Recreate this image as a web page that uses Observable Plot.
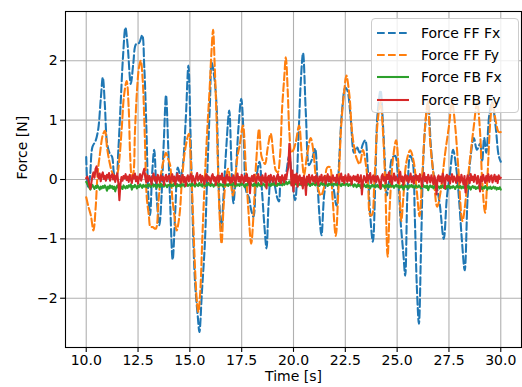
<!DOCTYPE html>
<html><head><meta charset="utf-8">
<script src="https://cdn.jsdelivr.net/npm/d3@7"></script>
<script src="https://cdn.jsdelivr.net/npm/@observablehq/plot@0.6"></script>
<style>
body{margin:0;background:#fff;}
#wrap{position:relative;width:522px;height:387px;font-family:"DejaVu Sans",sans-serif;}
.legend{position:absolute;left:371px;top:18px;width:148px;height:95px;box-sizing:border-box;border:1px solid #cccccc;border-radius:4px;background:rgba(255,255,255,0.8);}
.row{position:absolute;left:0;height:22px;display:flex;align-items:center;font-family:"DejaVu Sans",sans-serif;font-size:14px;color:#000;white-space:nowrap;}
.row svg{margin-left:5px;margin-right:12px;}
</style></head>
<body><div id="wrap"></div>
<script>
// ---- data ----
const xTicks = [10, 12.5, 15, 17.5, 20, 22.5, 25, 27.5, 30];
const yTicks = [-2, -1, 0, 1, 2];
const seriesNames = ["Force FF Fx", "Force FF Fy", "Force FB Fx", "Force FB Fy"];
const seriesColors = ["#1f77b4", "#ff7f0e", "#2ca02c", "#d62728"];
const seriesDashed = [true, true, false, false];

// Force FF Fx (blue dashed)
const ffFxTime = [
 10.00,10.08,10.18,10.30,10.45,10.58,10.70,10.80,10.90,11.00,
 11.12,11.25,11.35,11.45,11.55,11.65,11.78,11.89,12.00,12.15,
 12.27,12.40,12.55,12.70,12.80,12.90,13.00,13.08,13.18,13.28,
 13.40,13.53,13.63,13.75,13.85,13.95,14.05,14.17,14.30,14.42,
 14.55,14.65,14.80,14.93,15.03,15.13,15.25,15.38,15.46,15.58,
 15.72,15.85,15.97,16.05,16.15,16.28,16.40,16.52,16.62,16.75,
 16.90,17.00,17.10,17.20,17.35,17.48,17.60,17.72,17.85,17.95,
 18.07,18.20,18.36,18.48,18.60,18.70,18.80,18.92,19.05,19.21,
 19.30,19.40,19.52,19.63,19.79,19.92,20.08,20.25,20.35,20.46,
 20.60,20.75,20.90,21.04,21.15,21.25,21.35,21.50,21.65,21.85,
 22.07,22.20,22.35,22.50,22.60,22.75,22.92,23.05,23.20,23.35,
 23.46,23.58,23.70,23.83,23.95,24.05,24.20,24.32,24.42,24.50,
 24.62,24.75,24.90,25.05,25.17,25.30,25.39,25.50,25.63,25.75,
 25.85,25.95,26.05,26.15,26.27,26.40,26.50,26.62,26.77,26.90,
 27.05,27.25,27.40,27.55,27.70,27.85,28.00,28.12,28.26,28.40,
 28.55,28.70,28.85,29.00,29.10,29.20,29.30,29.45,29.58,29.75,
 29.90,30.00];
const ffFx = [
 0.38,-0.12,0.05,0.55,0.65,0.85,1.35,1.72,1.25,0.63,
 0.45,0.38,0.08,0.02,0.50,1.20,2.10,2.56,2.25,1.61,
 1.95,2.28,2.30,2.43,1.90,0.90,-0.30,-0.60,0.10,0.50,
 -0.30,-0.77,-0.30,0.70,1.42,0.60,-0.40,-1.35,-0.50,0.20,
 0.05,0.20,1.00,1.92,0.80,-0.60,-1.73,-2.30,-2.57,-1.90,
 -1.10,0.20,1.30,1.97,1.80,1.30,-0.20,-0.86,-0.30,0.50,
 1.16,0.30,-0.40,0.00,0.90,1.36,0.70,-0.20,-0.30,-0.50,
 -0.63,0.00,0.30,-0.20,-0.80,-1.16,-0.40,0.00,-0.05,-0.30,
 -0.37,0.00,-0.05,0.07,0.40,0.05,-0.35,0.80,1.64,2.13,
 1.08,0.24,0.35,0.52,0.00,-0.60,-0.94,-0.20,0.00,-0.05,
 -0.44,0.30,1.19,1.55,1.50,1.08,0.45,0.55,0.45,0.60,
 0.66,0.20,-0.60,-1.05,0.00,1.08,1.50,0.90,0.20,-0.27,
 0.00,0.35,0.40,0.00,-0.72,-1.25,-1.62,-0.20,0.40,0.30,
 -0.60,-1.80,-2.43,-1.20,0.40,1.08,1.30,0.60,0.07,-0.10,
 -0.40,-1.00,-0.30,0.10,0.50,0.20,-0.40,-1.00,-1.53,-0.30,
 0.40,0.70,0.50,0.60,0.30,0.70,0.45,1.10,1.30,0.90,
 0.40,0.30];

// Force FF Fy (orange dashed)
const ffFyTime = [
 10.00,10.10,10.22,10.35,10.45,10.55,10.65,10.80,10.90,11.01,
 11.12,11.25,11.38,11.50,11.60,11.72,11.82,11.95,12.05,12.12,
 12.20,12.27,12.35,12.45,12.55,12.63,12.72,12.82,12.92,13.02,
 13.10,13.20,13.35,13.48,13.60,13.72,13.85,13.95,14.05,14.15,
 14.25,14.36,14.50,14.62,14.78,14.95,15.05,15.15,15.25,15.35,
 15.41,15.50,15.60,15.72,15.85,15.95,16.05,16.12,16.20,16.30,
 16.40,16.48,16.53,16.62,16.72,16.84,16.95,17.08,17.20,17.30,
 17.40,17.56,17.70,17.82,17.96,18.07,18.20,18.34,18.45,18.55,
 18.63,18.75,18.90,19.05,19.15,19.24,19.35,19.45,19.55,19.63,
 19.72,19.80,19.90,20.00,20.11,20.27,20.40,20.51,20.65,20.83,
 20.95,21.10,21.32,21.50,21.62,21.75,21.88,22.04,22.15,22.30,
 22.45,22.55,22.70,22.80,22.90,23.05,23.19,23.35,23.45,23.60,
 23.70,23.78,23.90,24.06,24.20,24.30,24.42,24.54,24.65,24.80,
 24.95,25.07,25.20,25.30,25.45,25.63,25.80,25.95,26.08,26.20,
 26.35,26.48,26.60,26.75,26.93,27.10,27.30,27.50,27.65,27.80,
 27.95,28.15,28.35,28.50,28.70,28.86,29.00,29.10,29.24,29.35,
 29.50,29.60,29.75,29.90,30.00];
const ffFy = [
 -0.30,-0.45,-0.60,-0.86,-0.50,0.10,0.40,0.75,0.82,0.52,
 0.30,0.12,0.05,0.10,0.35,0.90,1.40,1.66,1.20,0.40,
 0.05,0.10,0.80,1.50,1.90,2.00,1.70,0.80,-0.30,-0.60,
 -0.80,-0.80,-0.83,-0.40,0.07,0.30,0.45,0.35,0.24,-0.30,
 -0.60,-0.86,-0.60,0.00,0.52,0.77,0.30,-0.60,-1.50,-2.10,
 -2.23,-1.90,-1.00,0.00,0.90,1.50,2.20,2.52,1.90,0.90,
 -0.30,-0.90,-1.08,-0.50,-0.05,0.18,0.00,-0.27,0.05,0.40,
 0.57,0.91,0.20,-0.50,-1.08,-0.60,0.30,0.85,0.40,0.30,
 0.26,0.52,0.77,0.35,0.15,0.12,0.40,1.20,1.70,2.06,
 1.50,0.80,0.45,0.50,0.63,0.91,0.40,0.07,0.40,0.70,
 0.50,0.00,-0.27,-0.10,0.20,0.21,-0.30,-0.95,-0.30,0.90,
 1.50,1.75,1.41,0.90,0.60,0.35,0.26,0.50,0.35,-0.10,
 -0.60,-0.60,-0.05,0.97,1.30,0.90,0.00,-1.30,-0.40,0.35,
 0.66,0.20,-0.70,-0.30,0.30,0.49,0.30,-0.20,-0.62,0.00,
 0.90,1.30,0.60,0.10,-0.46,-0.20,0.40,0.90,1.30,0.90,
 0.20,-0.70,-0.20,0.30,0.90,1.30,0.80,0.00,-0.56,0.00,
 1.00,1.30,1.00,0.80,0.80];

// Force FB series, sampled every 0.05 s from 10 s
const fbStart = 10, fbStep = 0.05;
const fbFx = [
 -0.04,-0.07,-0.10,-0.14,-0.17,-0.12,-0.09,-0.13,-0.16,-0.11, -0.14,-0.10,-0.13,-0.17,-0.12,-0.15,-0.11,-0.14,-0.10,-0.13,
 -0.19,-0.12,-0.15,-0.10,-0.14,-0.11,-0.16,-0.12,-0.20,-0.13, -0.10,-0.14,-0.11,-0.15,-0.12,-0.16,-0.10,-0.13,-0.15,-0.11,
 -0.14,-0.10,-0.12,-0.08,-0.17,-0.11,-0.13,-0.09,-0.12,-0.15, -0.10,-0.13,-0.08,-0.11,-0.14,-0.09,-0.12,-0.10,-0.13,-0.09,
 -0.11,-0.08,-0.13,-0.10,-0.07,-0.12,-0.09,-0.11,-0.14,-0.08, -0.10,-0.13,-0.07,-0.11,-0.09,-0.12,-0.08,-0.10,-0.13,-0.09,
 -0.10,-0.07,-0.12,-0.09,-0.11,-0.06,-0.10,-0.13,-0.08,-0.11, -0.09,-0.12,-0.07,-0.10,-0.08,-0.12,-0.09,-0.06,-0.11,-0.09,
 -0.08,-0.11,-0.06,-0.10,-0.08,-0.12,-0.07,-0.09,-0.11,-0.06, -0.10,-0.08,-0.12,-0.07,-0.09,-0.11,-0.08,-0.10,-0.06,-0.09,
 -0.11,-0.07,-0.09,-0.12,-0.08,-0.10,-0.06,-0.09,-0.11,-0.07, -0.10,-0.08,-0.12,-0.09,-0.06,-0.10,-0.08,-0.11,-0.07,-0.09,
 -0.08,-0.10,-0.06,-0.09,-0.12,-0.07,-0.10,-0.08,-0.11,-0.06, -0.09,-0.07,-0.10,-0.13,-0.08,-0.10,-0.06,-0.09,-0.11,-0.07,
 -0.09,-0.11,-0.07,-0.10,-0.08,-0.12,-0.06,-0.09,-0.11,-0.08, -0.10,-0.07,-0.09,-0.12,-0.08,-0.06,-0.10,-0.08,-0.11,-0.07,
 -0.09,-0.06,-0.10,-0.08,-0.11,-0.07,-0.09,-0.05,-0.08,-0.10, -0.06,-0.09,-0.07,-0.04,-0.08,-0.06,-0.03,-0.07,-0.05,-0.08,
 -0.06,-0.09,-0.05,-0.08,-0.11,-0.07,-0.09,-0.06,-0.10,-0.08, -0.05,-0.09,-0.07,-0.10,-0.06,-0.08,-0.11,-0.07,-0.09,-0.06,
 -0.08,-0.10,-0.06,-0.09,-0.07,-0.11,-0.08,-0.05,-0.09,-0.07, -0.10,-0.06,-0.08,-0.11,-0.07,-0.09,-0.06,-0.10,-0.08,-0.07,
 -0.09,-0.06,-0.10,-0.08,-0.05,-0.09,-0.11,-0.07,-0.09,-0.06, -0.10,-0.08,-0.07,-0.11,-0.08,-0.10,-0.06,-0.09,-0.12,-0.08,
 -0.10,-0.13,-0.08,-0.11,-0.09,-0.14,-0.10,-0.12,-0.08,-0.11, -0.13,-0.09,-0.12,-0.10,-0.15,-0.11,-0.09,-0.12,-0.10,-0.13,
 -0.11,-0.09,-0.13,-0.10,-0.16,-0.12,-0.09,-0.11,-0.14,-0.10, -0.12,-0.09,-0.13,-0.11,-0.08,-0.12,-0.10,-0.14,-0.11,-0.09,
 -0.12,-0.10,-0.14,-0.11,-0.13,-0.09,-0.17,-0.12,-0.10,-0.13, -0.11,-0.15,-0.10,-0.12,-0.09,-0.13,-0.11,-0.14,-0.10,-0.12,
 -0.13,-0.10,-0.12,-0.15,-0.11,-0.09,-0.13,-0.11,-0.14,-0.10, -0.18,-0.12,-0.10,-0.13,-0.11,-0.15,-0.12,-0.10,-0.14,-0.11,
 -0.12,-0.15,-0.11,-0.13,-0.10,-0.14,-0.12,-0.16,-0.11,-0.13, -0.10,-0.15,-0.12,-0.14,-0.11,-0.13,-0.16,-0.12,-0.10,-0.14,
 -0.13,-0.11,-0.15,-0.12,-0.14,-0.10,-0.16,-0.13,-0.11,-0.15, -0.12,-0.17,-0.13,-0.11,-0.14,-0.12,-0.16,-0.13,-0.15,-0.11,
 -0.14,-0.12,-0.16,-0.13,-0.15,-0.11,-0.14,-0.17,-0.13,-0.15, -0.12,-0.16,-0.14,-0.12,-0.15,-0.13,-0.17,-0.14,-0.16,-0.13,
 -0.17];
const fbFy = [
 0.02,0.05,0.00,-0.10,-0.16,-0.05,0.06,0.12,0.03,0.18, 0.22,0.08,0.02,0.10,-0.03,0.07,0.12,0.01,0.06,-0.02,
 0.08,0.03,0.11,-0.02,0.06,0.09,0.00,0.07,-0.04,0.05, 0.10,-0.06,-0.35,-0.08,0.04,-0.02,0.06,0.02,0.09,-0.01,
 0.05,-0.04,0.08,0.01,-0.06,0.07,0.02,0.10,-0.03,0.05, -0.07,0.04,0.09,-0.02,0.06,0.12,0.18,0.03,-0.05,0.07,
 -0.03,0.06,0.01,-0.08,0.05,0.10,-0.02,0.04,-0.06,0.08, 0.02,-0.04,0.07,-0.01,0.05,-0.09,0.03,0.08,-0.03,0.04,
 0.07,-0.05,0.02,0.09,-0.03,0.05,-0.08,0.03,0.10,-0.02, 0.06,-0.06,0.01,0.08,-0.04,0.04,-0.11,0.02,0.07,-0.03,
 0.04,0.09,-0.04,0.06,0.00,-0.07,0.05,0.11,-0.02,0.03, 0.08,-0.05,0.06,0.01,-0.08,0.04,0.09,-0.03,0.05,0.02,
 -0.06,0.05,0.09,-0.02,0.04,-0.09,0.03,0.07,-0.04,0.06, 0.00,0.10,-0.05,0.03,-0.07,0.05,0.08,-0.02,0.04,-0.06,
 0.03,-0.04,0.07,0.01,-0.08,0.05,0.10,-0.03,0.04,-0.05, 0.08,0.02,-0.06,0.06,-0.02,0.09,-0.04,0.03,-0.23,0.02,
 0.06,-0.03,0.08,0.01,-0.06,0.05,0.09,-0.02,0.04,-0.08, 0.07,0.00,-0.04,0.10,-0.15,0.03,0.06,-0.05,0.08,0.02,
 -0.04,0.06,0.01,-0.07,0.05,0.09,-0.03,0.04,-0.06,0.07, 0.02,-0.05,0.08,0.00,0.12,0.20,0.60,0.35,-0.10,0.15,
 -0.20,0.08,-0.05,0.10,-0.12,0.04,0.07,-0.08,0.03,-0.15, 0.06,0.00,-0.26,0.05,-0.04,0.08,-0.06,0.02,0.07,-0.03,
 0.04,-0.06,0.07,0.01,-0.09,0.05,-0.02,0.08,-0.04,0.03, 0.06,-0.07,0.02,0.09,-0.03,0.05,-0.05,0.01,0.07,-0.02,
 0.03,-0.05,0.08,0.00,-0.07,0.05,0.10,-0.03,0.04,-0.06, 0.07,0.01,-0.04,0.09,-0.02,0.05,-0.08,0.03,0.06,-0.01,
 0.05,-0.03,0.08,-0.06,0.02,0.07,-0.25,-0.04,0.06,0.01, -0.05,0.09,-0.02,0.04,0.11,-0.06,0.03,0.07,-0.03,0.05,
 -0.04,0.06,0.02,-0.07,-0.15,0.05,0.09,-0.02,0.04,-0.06, 0.08,0.01,0.12,-0.04,0.06,-0.08,0.03,0.10,-0.02,0.05,
 0.00,-0.06,0.07,0.13,-0.03,0.05,-0.09,0.04,0.08,-0.02, 0.06,-0.05,0.02,0.10,-0.04,0.05,-0.07,0.03,0.08,-0.01,
 0.06,-0.04,0.09,0.01,-0.12,0.05,0.11,-0.03,0.04,-0.06, 0.08,0.02,-0.05,0.07,0.00,-0.08,0.06,-0.02,-0.25,0.03,
 0.07,-0.03,0.05,-0.06,0.10,0.02,-0.15,0.04,0.08,-0.02, 0.06,-0.07,0.03,0.09,-0.04,0.05,0.01,-0.06,0.07,-0.02,
 0.04,-0.05,0.08,0.00,-0.08,0.06,-0.22,-0.03,0.07,0.02, -0.06,0.09,-0.01,0.05,-0.04,0.08,0.02,-0.07,0.06,-0.02,
 -0.20,0.05,-0.03,0.08,0.01,-0.06,0.06,-0.02,0.09,-0.04, 0.04,0.07,-0.05,0.02,0.08,-0.03,0.05,-0.06,0.07,0.01,
 0.03];

// ---- build tables ----
const ffFxData = ffFxTime.map((t, i) => ({t, v: ffFx[i]}));
const ffFyData = ffFyTime.map((t, i) => ({t, v: ffFy[i]}));
const fbFxData = fbFx.map((v, i) => ({t: fbStart + i * fbStep, v}));
const fbFyData = fbFy.map((v, i) => ({t: fbStart + i * fbStep, v}));
const tables = [ffFxData, ffFyData, fbFxData, fbFyData];

const LW = 2.08; // 1.5 pt at 100 dpi
const DASH = "7.7,3.3";
const FONT = "DejaVu Sans";

const lineMarks = tables.map((data, k) => Plot.line(data, {
  x: "t", y: "v",
  stroke: seriesColors[k],
  strokeWidth: LW,
  strokeDasharray: seriesDashed[k] ? DASH : null,
  curve: seriesDashed[k] ? "catmull-rom" : "linear"
}));

const chart = Plot.plot({
  width: 522, height: 387,
  marginLeft: 65, marginRight: 1, marginTop: 11, marginBottom: 40,
  style: {fontFamily: FONT, fontSize: "14px", color: "black", background: "white", overflow: "visible"},
  x: {domain: [9, 31]},
  y: {domain: [-2.83, 2.83]},
  marks: [
    Plot.gridX(xTicks, {stroke: "#b0b0b0", strokeOpacity: 1, strokeWidth: 1.1}),
    Plot.gridY(yTicks, {stroke: "#b0b0b0", strokeOpacity: 1, strokeWidth: 1.1}),
    ...lineMarks,
    Plot.frame({stroke: "black", strokeWidth: 1.1}),
    Plot.axisX({ticks: xTicks, tickFormat: d3.format(".1f"), tickSize: 4.9, tickPadding: 3, strokeWidth: 1.1, label: null, fontSize: 14, fontFamily: FONT}),
    Plot.axisY({ticks: yTicks, tickFormat: d3.format("d"), tickSize: 4.9, tickPadding: 3, strokeWidth: 1.1, label: null, fontSize: 14, fontFamily: FONT}),
    Plot.text(["Time [s]"], {text: d => d, frameAnchor: "bottom", dy: 33, fill: "black", fontSize: 14, fontFamily: FONT}),
    Plot.text(["Force [N]"], {text: d => d, frameAnchor: "left", dx: -43, rotate: -90, fill: "black", fontSize: 14, fontFamily: FONT})
  ]
});

const wrap = document.getElementById("wrap");
wrap.appendChild(chart);

// legend overlay
const legend = document.createElement("div");
legend.className = "legend";
const rowTops = [2.5, 24.5, 47, 69.5];
seriesNames.forEach((name, k) => {
  const row = document.createElement("div");
  row.className = "row";
  row.style.top = rowTops[k] + "px";
  const dash = seriesDashed[k] ? ` stroke-dasharray="${DASH}"` : "";
  row.innerHTML = `<svg width="32" height="4"><line x1="0" y1="2" x2="32" y2="2" stroke="${seriesColors[k]}" stroke-width="${LW}"${dash}/></svg><span>${name}</span>`;
  legend.appendChild(row);
});
wrap.appendChild(legend);
</script>
</body></html>
